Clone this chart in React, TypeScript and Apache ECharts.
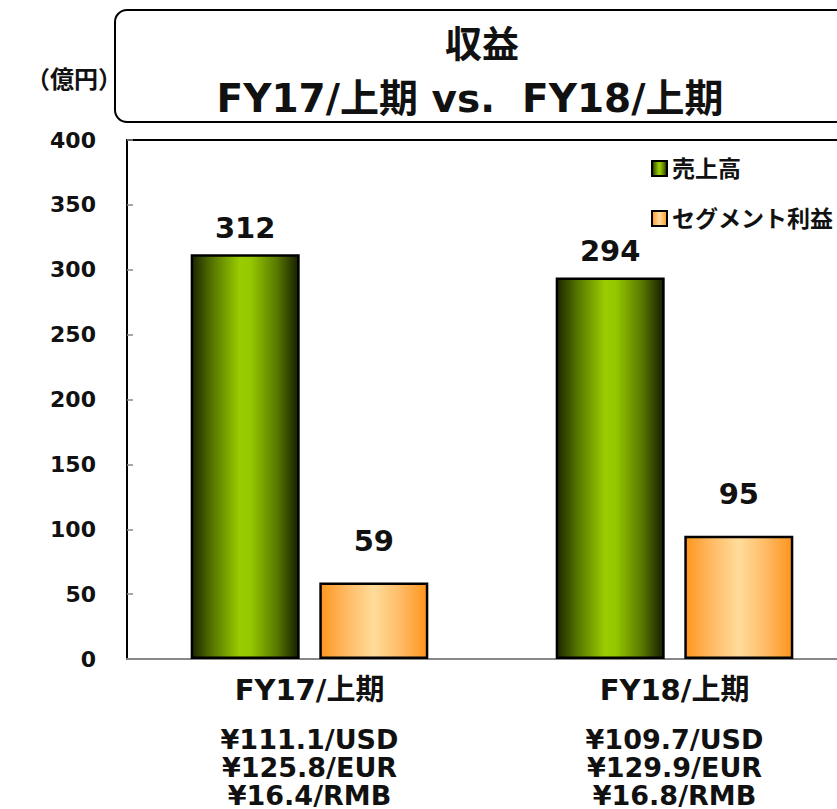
import React, { useEffect, useRef } from "react";
import * as echarts from "echarts";

// Half-year revenue figures (億円)
const categories = ["FY17/上期", "FY18/上期"];
const salesValues = [312, 294];
const segmentProfitValues = [59, 95];
const seriesNames = ["売上高", "セグメント利益"];
const exchangeRates = [
  ["¥111.1/USD", "¥125.8/EUR", "¥16.4/RMB"],
  ["¥109.7/USD", "¥129.9/EUR", "¥16.8/RMB"],
];
const yMin = 0;
const yMax = 400;
const yInterval = 50;

const FONT = "Verdana, 'DejaVu Sans', 'Noto Sans CJK JP', sans-serif";

const greenFill = new echarts.graphic.LinearGradient(0, 0, 1, 0, [
  { offset: 0, color: "#1c2600" },
  { offset: 0.2, color: "#587800" },
  { offset: 0.45, color: "#99cc00" },
  { offset: 0.55, color: "#96c800" },
  { offset: 0.8, color: "#587800" },
  { offset: 1, color: "#161e00" },
]);

const orangeFill = new echarts.graphic.LinearGradient(0, 0, 1, 0, [
  { offset: 0, color: "#ff961e" },
  { offset: 0.25, color: "#ffbb66" },
  { offset: 0.5, color: "#ffdc9a" },
  { offset: 0.75, color: "#ffbb66" },
  { offset: 1, color: "#ff941c" },
]);

export default function App() {
  const ref = useRef<HTMLDivElement>(null);

  useEffect(() => {
    if (!ref.current) return;
    const chart = echarts.init(ref.current, null, { renderer: "svg" });

    const option: any = {
      animation: false,
      backgroundColor: "#ffffff",
      textStyle: { fontFamily: FONT },
      grid: {
        left: 127,
        top: 140,
        width: 730,
        bottom: 150,
        containLabel: false,
        outerBoundsMode: "none",
      },
      legend: {
        orient: "vertical",
        left: 646,
        top: 152,
        itemGap: 27,
        itemWidth: 15,
        itemHeight: 15,
        icon: "rect",
        textStyle: { fontSize: 23, fontWeight: "bold", color: "#111", fontFamily: FONT },
        data: seriesNames,
      },
      xAxis: [
        {
          type: "category",
          data: categories,
          axisLine: { show: true, lineStyle: { color: "#888", width: 2 } },
          axisTick: { show: false },
          axisLabel: {
            margin: 15,
            interval: 0,
            formatter: (value: string, idx: number) =>
              `{p|${value}}\n{g| }\n` + exchangeRates[idx].map((r) => `{r|${r}}`).join("\n"),
            rich: {
              p: { fontSize: 29, fontWeight: "bold", color: "#111", lineHeight: 32, fontFamily: FONT },
              g: { fontSize: 10, lineHeight: 19 },
              r: { fontSize: 27, fontWeight: "bold", color: "#111", lineHeight: 28, fontFamily: FONT },
            },
          },
        },
        {
          type: "category",
          position: "top",
          data: categories,
          axisLine: { show: true, lineStyle: { color: "#000", width: 2 } },
          axisTick: { show: false },
          axisLabel: { show: false },
        },
      ],
      yAxis: {
        type: "value",
        min: yMin,
        max: yMax,
        interval: yInterval,
        splitLine: { show: false },
        axisLine: { show: true, lineStyle: { color: "#000", width: 2 } },
        axisTick: { show: true, inside: true, length: 6, lineStyle: { color: "#888", width: 1.5 } },
        axisLabel: {
          margin: 31,
          fontSize: 22,
          fontWeight: "bold",
          color: "#111",
          fontFamily: FONT,
        },
      },
      series: [
        {
          name: seriesNames[0],
          type: "bar",
          data: salesValues,
          barWidth: 109,
          barGap: "18%",
          itemStyle: { color: greenFill, borderColor: "#000", borderWidth: 2.5 },
          label: {
            show: true,
            position: "top",
            distance: 12,
            fontSize: 29,
            fontWeight: "bold",
            color: "#111",
            fontFamily: FONT,
          },
        },
        {
          name: seriesNames[1],
          type: "bar",
          data: segmentProfitValues,
          barWidth: 109,
          barGap: "18%",
          itemStyle: { color: orangeFill, borderColor: "#000", borderWidth: 2.5 },
          label: {
            show: true,
            position: "top",
            distance: 27,
            fontSize: 29,
            fontWeight: "bold",
            color: "#111",
            fontFamily: FONT,
          },
        },
      ],
      graphic: [
        {
          type: "rect",
          shape: { x: 115, y: 10, width: 780, height: 112, r: 12 },
          style: { fill: "none", stroke: "#000", lineWidth: 2 },
        },
        {
          type: "text",
          x: 482,
          y: 45,
          style: {
            text: "収益",
            fontSize: 37,
            fontWeight: "bold",
            fill: "#111",
            align: "center",
            verticalAlign: "middle",
            fontFamily: FONT,
          },
        },
        {
          type: "text",
          x: 470,
          y: 98,
          style: {
            text: "FY17/上期 vs.  FY18/上期",
            fontSize: 39,
            fontWeight: "bold",
            fill: "#111",
            align: "center",
            verticalAlign: "middle",
            fontFamily: FONT,
          },
        },
        {
          type: "text",
          x: 74,
          y: 80,
          style: {
            text: "（億円）",
            fontSize: 24,
            fontWeight: "bold",
            fill: "#111",
            align: "center",
            verticalAlign: "middle",
            fontFamily: FONT,
          },
        },
      ],
    };

    chart.setOption(option);
    return () => chart.dispose();
  }, []);

  return (
    <div
      ref={ref}
      style={{ position: "absolute", left: 0, top: 0, width: 837, height: 809 }}
    />
  );
}
